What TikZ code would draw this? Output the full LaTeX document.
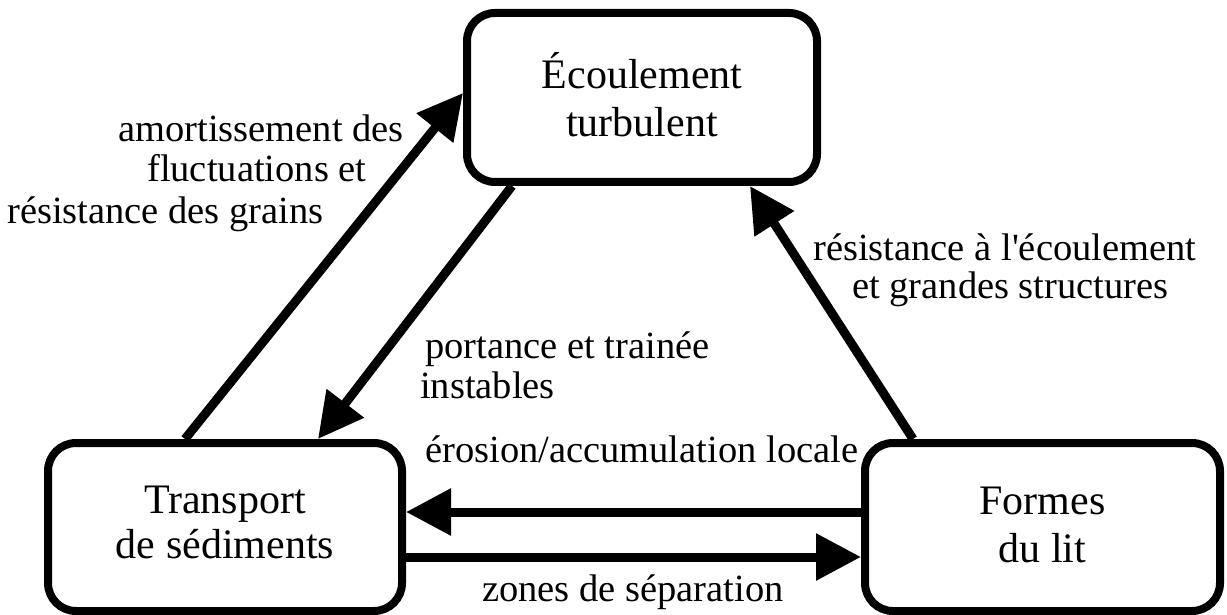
\documentclass[tikz,border=0pt]{standalone}
\usepackage{fontspec}
\setmainfont{Liberation Serif}
\newfontfamily\aposfont{Liberation Serif}[Ligatures=TeXOff]
\usetikzlibrary{arrows.meta}
\begin{document}
\begin{tikzpicture}[x=1pt,y=-1pt,
  box/.style={draw, line width=8pt, rounded corners=28pt, align=center,
    font=\fontsize{42}{48}\selectfont, inner sep=0pt},
  lab/.style={inner sep=0pt, anchor=base west, font=\fontsize{38.5}{41}\selectfont},
  arr/.style={line width=9pt, -{Triangle[length=45pt,width=45pt]}}]
\useasboundingbox[fill=white] (0,0) rectangle (1227,615);
% boxes
\node[box, minimum width=350pt, minimum height=169pt] (ecoul) at (642,97.5) {Écoulement\\turbulent\rule[-7pt]{0pt}{0pt}};
\node[box, minimum width=354pt, minimum height=168pt] (trans) at (225,527) {Transport\\[-3pt]de sédiments\rule[-10pt]{0pt}{0pt}};
\node[box, minimum width=355pt, minimum height=168pt] (formes) at (1042.5,527) {Formes\\du lit\rule[-4pt]{0pt}{0pt}};
% connectors
\draw[arr] ([xshift=-40pt]trans.north) -- ([yshift=4.5pt]ecoul.west);
\draw[arr] ([xshift=-130pt]ecoul.south) -- ([xshift=93pt]trans.north);
\draw[arr] ([xshift=-129.5pt]formes.north) -- ([xshift=108pt]ecoul.south);
\draw[arr] ([yshift=15pt]formes.west) -- ([yshift=15pt]trans.east);
\draw[arr] ([yshift=-30pt]trans.east) -- ([yshift=-30pt]formes.west);
% labels
\node[lab] (l1a) at (118,142) {amortissement des};
\node[lab] (l1b) at (147,182) {fluctuations et};
\node[lab] (l1c) at (7,223) {résistance des grains};
\node[lab] (l2a) at (425,358) {portance et trainée};
\node[lab] (l2b) at (420,398) {instables};
\node[lab] (l3a) at (813,260) {résistance à l{\aposfont'}écoulement};
\node[lab] (l3b) at (852,298) {et grandes structures};
\node[lab] (l4) at (425,462) {érosion/accumulation locale};
\node[lab] (l5) at (482,601) {zones de séparation};
\end{tikzpicture}
\end{document}
